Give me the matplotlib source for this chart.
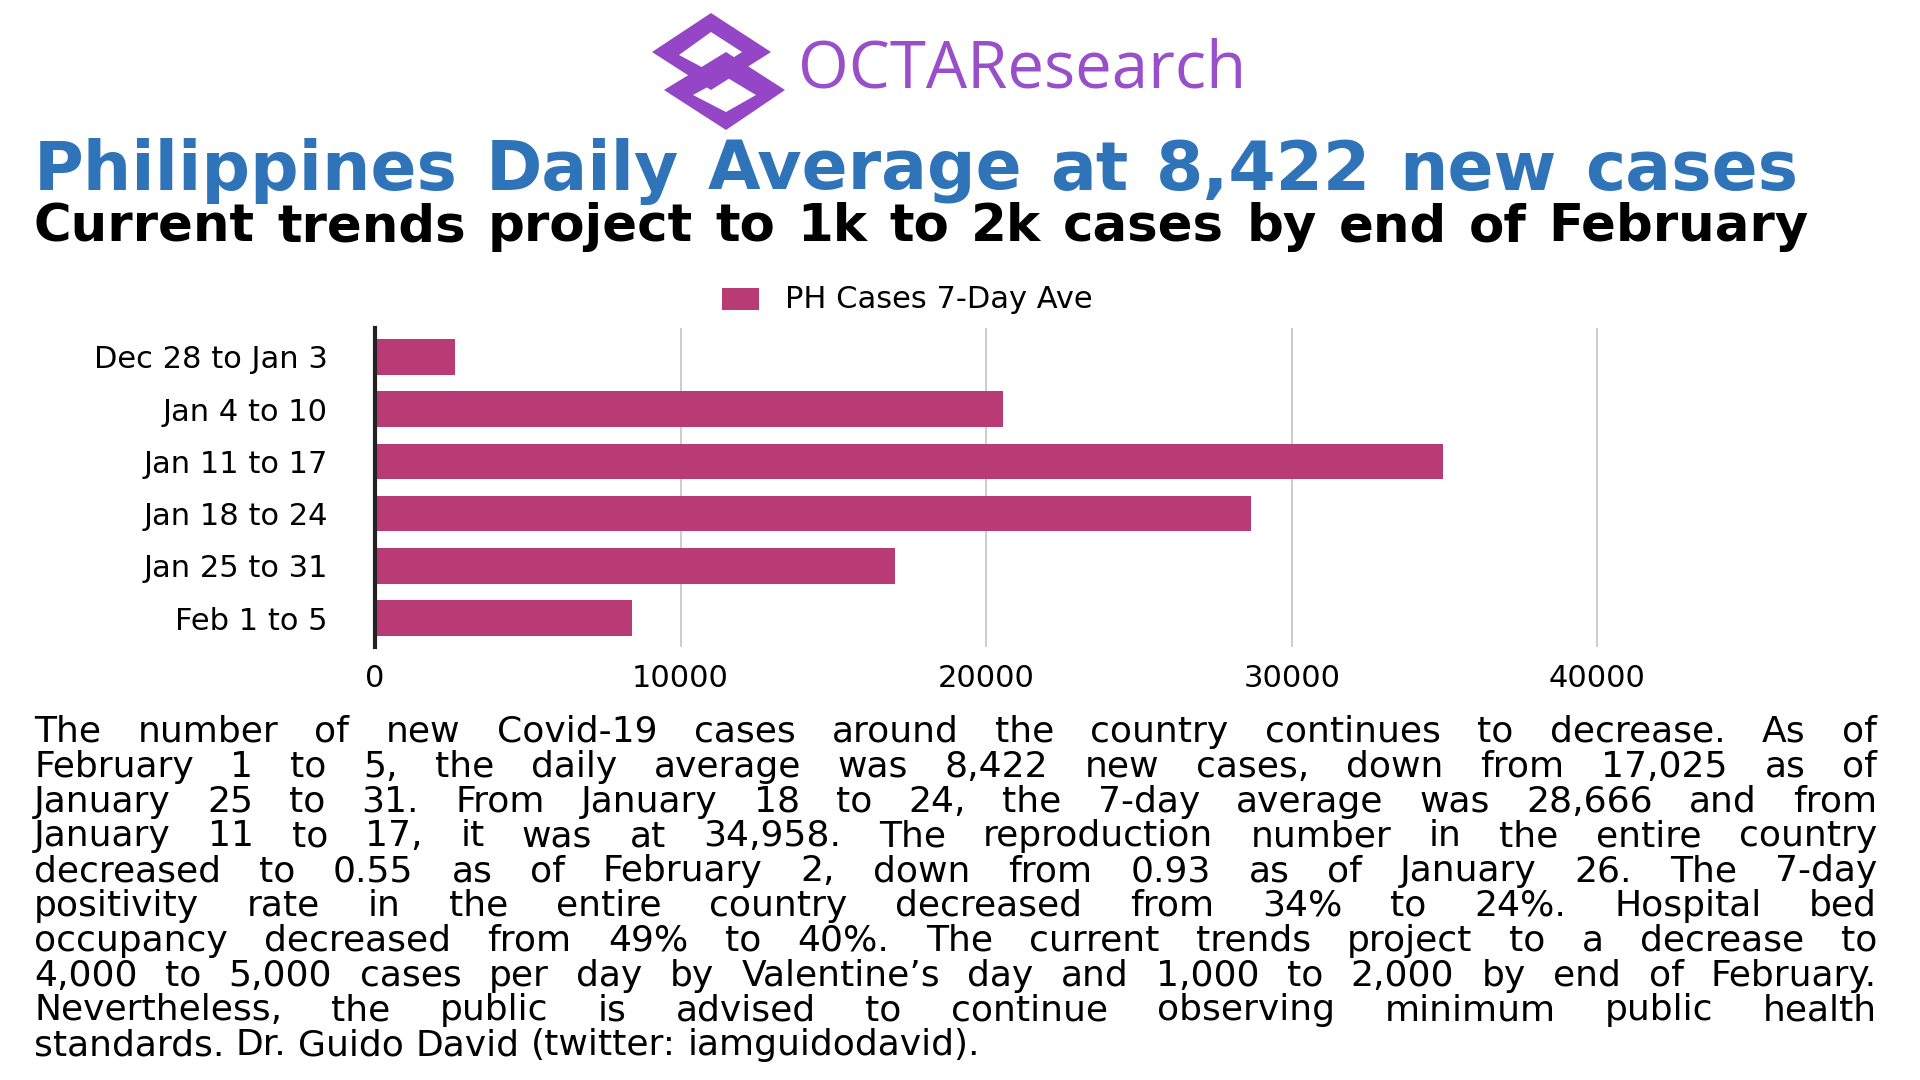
import matplotlib
matplotlib.use("Agg")
import matplotlib.pyplot as plt
from matplotlib.path import Path
from matplotlib.patches import PathPatch, Rectangle

W, H = 1920, 1080

weeks = ["Dec 28 to Jan 3", "Jan 4 to 10", "Jan 11 to 17",
         "Jan 18 to 24", "Jan 25 to 31", "Feb 1 to 5"]
cases_7day = [2630, 20540, 34958, 28666, 17025, 8422]
xticks = [0, 10000, 20000, 30000, 40000]
series_name = "PH Cases 7-Day Ave"

title = "Philippines Daily Average at 8,422 new cases"
subtitle = "Current trends project to 1k to 2k cases by end of February"
body_lines = [
    "The number of new Covid-19 cases around the country continues to decrease. As of",
    "February 1 to 5, the daily average was 8,422 new cases, down from 17,025 as of",
    "January 25 to 31. From January 18 to 24, the 7-day average was 28,666 and from",
    "January 11 to 17, it was at 34,958. The reproduction number in the entire country",
    "decreased to 0.55 as of February 2, down from 0.93 as of January 26. The 7-day",
    "positivity rate in the entire country decreased from 34% to 24%. Hospital bed",
    "occupancy decreased from 49% to 40%. The current trends project to a decrease to",
    "4,000 to 5,000 cases per day by Valentine\u2019s day and 1,000 to 2,000 by end of February.",
    "Nevertheless, the public is advised to continue observing minimum public health",
    "standards. Dr. Guido David (twitter: iamguidodavid).",
]

bar_color = "#b83b76"
purple = "#9446c6"
blue = "#2f74b8"


def fx(px):
    return px / W


def fy(py):
    # pixel rows counted from the top
    return 1 - py / H


fig = plt.figure(figsize=(19.2, 10.8), dpi=100)
fig.patch.set_facecolor("white")
renderer = fig.canvas.get_renderer()


def justify(words_line, left, right, base_y, size, last=False, **kw):
    words = words_line.split(" ")
    texts = [fig.text(0, fy(base_y), w, fontsize=size, ha="left",
                      va="baseline", **kw) for w in words]
    widths = [t.get_window_extent(renderer).width for t in texts]
    if last or len(words) == 1:
        gap = renderer.points_to_pixels(size) * 0.32
    else:
        gap = (right - left - sum(widths)) / (len(words) - 1)
    x = left
    for t, wd in zip(texts, widths):
        t.set_x(fx(x))
        x += wd + gap


# ---- logo ----
def diamond(cx_l, cy_l, cx_t, cy_t, cx_r, cy_r, cx_b, cy_b, reverse=False):
    pts = [(cx_l, cy_l), (cx_b, cy_b), (cx_r, cy_r), (cx_t, cy_t)]
    if reverse:
        pts = pts[::-1]
    pts = [(fx(x), fy(y)) for x, y in pts]
    return pts + [pts[0]]

codes_ring = [Path.MOVETO] + [Path.LINETO] * 3 + [Path.CLOSEPOLY]
upper = Path(diamond(652, 52, 711, 13, 771, 52, 711, 90)
             + diamond(679, 55, 711, 32, 742, 52, 711, 72, reverse=True),
             codes_ring * 2)
lower = Path(diamond(664, 90, 726, 52, 785, 90, 726, 130)
             + diamond(693, 95, 726, 77, 756, 95, 726, 112, reverse=True),
             codes_ring * 2)
for p in (upper, lower):
    fig.patches.append(PathPatch(p, facecolor=purple, edgecolor="none",
                                 transform=fig.transFigure))
fig.text(fx(798), fy(88), "OCTAResearch", fontsize=47, color="#9a4fca",
         family="Open Sans", ha="left", va="baseline")

# ---- headings ----
justify(title, 34, 1798, 190, 49, color=blue, weight="bold")
justify(subtitle, 34, 1809, 241, 37, color="black", weight="bold")

# ---- bar chart ----
ax = fig.add_axes([fx(375), fy(647), fx(1750) - fx(375), fy(328) - fy(647)])
ypos = list(range(len(weeks)))
ax.barh(ypos, cases_7day, height=0.68, color=bar_color, zorder=2,
        label=series_name)
ax.set_ylim(len(weeks) - 0.45, -0.55)
ax.set_xlim(0, 45000)
ax.set_yticks(ypos)
ax.set_yticklabels(weeks, fontsize=22)
ax.set_xticks(xticks)
ax.set_xticklabels([str(v) for v in xticks], fontsize=22)
ax.tick_params(length=0, pad=34, axis="y")
ax.tick_params(length=0, pad=12, axis="x")
ax.grid(axis="x", color="#c4c4c4", linewidth=1.2, zorder=0)
for s in ("top", "right", "bottom"):
    ax.spines[s].set_visible(False)
ax.spines["left"].set_linewidth(3)
ax.spines["left"].set_color("#222222")
ax.spines["left"].set_zorder(3)

fig.patches.append(Rectangle((fx(722), fy(310)), fx(37), fy(288) - fy(310),
                             facecolor=bar_color, transform=fig.transFigure))
fig.text(fx(785), fy(299), series_name, fontsize=22, ha="left", va="center")

# ---- justified paragraph ----
base0, pitch = 742, 34.8
for i, line in enumerate(body_lines):
    justify(line, 34, 1877, base0 + i * pitch, 26,
            last=(i == len(body_lines) - 1))

fig.savefig("out.png", dpi=100, facecolor="white")
